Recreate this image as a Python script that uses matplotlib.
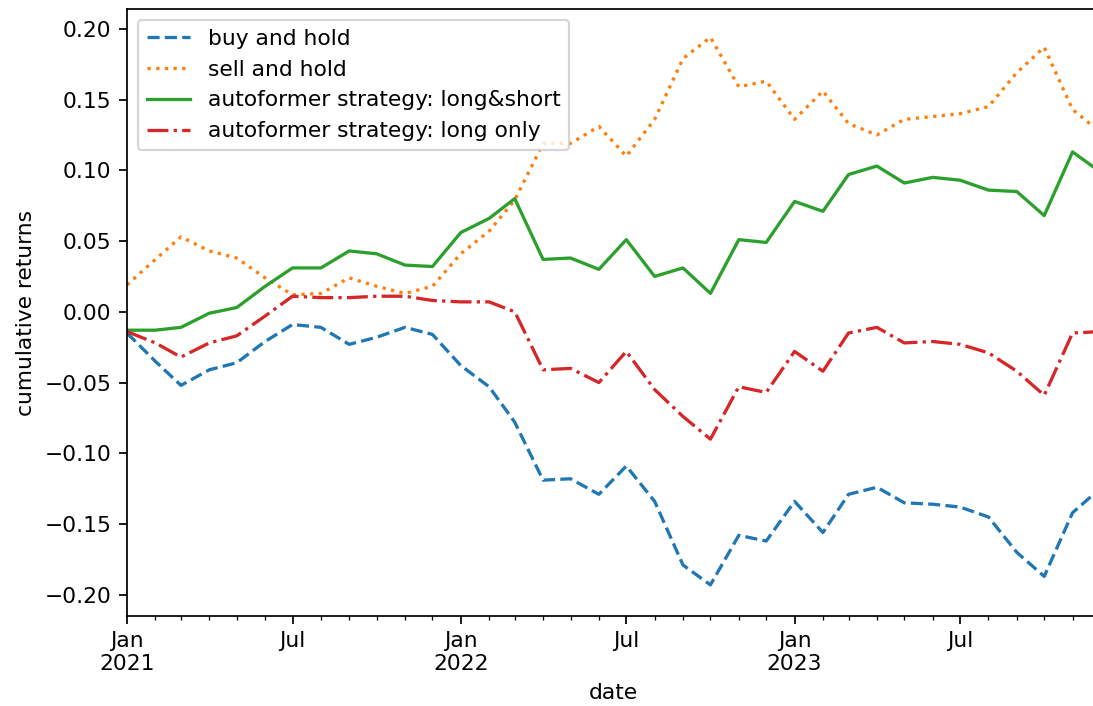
import numpy as np
import pandas as pd
import matplotlib
matplotlib.use('Agg')
import matplotlib.pyplot as plt
import matplotlib.dates as mdates
from matplotlib.ticker import FuncFormatter

# monthly cumulative returns, Jan 2021 .. Dec 2023
months = pd.date_range('2021-01-01', periods=36, freq='MS')

buy_hold = [-0.015, -0.035, -0.052, -0.041, -0.036, -0.021, -0.009, -0.011,
            -0.023, -0.018, -0.011, -0.016, -0.038, -0.053, -0.078, -0.119,
            -0.118, -0.129, -0.109, -0.134, -0.179, -0.193, -0.158, -0.162,
            -0.134, -0.156, -0.129, -0.124, -0.135, -0.136, -0.138, -0.145,
            -0.170, -0.187, -0.142, -0.125]
sell_hold = [0.019, 0.037, 0.053, 0.043, 0.038, 0.024, 0.012, 0.013,
             0.024, 0.018, 0.013, 0.018, 0.041, 0.057, 0.079, 0.119,
             0.119, 0.131, 0.110, 0.136, 0.179, 0.194, 0.159, 0.163,
             0.136, 0.156, 0.133, 0.125, 0.136, 0.138, 0.140, 0.145,
             0.169, 0.187, 0.143, 0.127]
long_short = [-0.013, -0.013, -0.011, -0.001, 0.003, 0.018, 0.031, 0.031,
              0.043, 0.041, 0.033, 0.032, 0.056, 0.066, 0.080, 0.037,
              0.038, 0.030, 0.051, 0.025, 0.031, 0.013, 0.051, 0.049,
              0.078, 0.071, 0.097, 0.103, 0.091, 0.095, 0.093, 0.086,
              0.085, 0.068, 0.113, 0.099]
long_only = [-0.014, -0.022, -0.032, -0.022, -0.017, -0.003, 0.011, 0.010,
             0.010, 0.011, 0.011, 0.008, 0.007, 0.007, 0.000, -0.041,
             -0.040, -0.050, -0.028, -0.055, -0.074, -0.090, -0.053, -0.057,
             -0.028, -0.042, -0.015, -0.011, -0.022, -0.021, -0.023, -0.029,
             -0.042, -0.059, -0.015, -0.014]

W, H, DPI = 1093, 706, 157
fig = plt.figure(figsize=(W / DPI, H / DPI), dpi=DPI)
# axes run slightly past the right edge of the canvas
ax = fig.add_axes([127 / W, 90 / H, 973 / W, 607 / H])

ax.plot(months, buy_hold, '--', color='C0', label='buy and hold')
ax.plot(months, sell_hold, ':', color='C1', label='sell and hold')
ax.plot(months, long_short, '-', color='C2', label='autoformer strategy: long&short')
ax.plot(months, long_only, '-.', color='C3', label='autoformer strategy: long only')

ax.set_xlim(months[0], months[-1])
ax.set_ylim(-0.215, 0.214)
ax.xaxis.set_major_locator(mdates.MonthLocator(bymonth=[1, 7]))
ax.xaxis.set_minor_locator(mdates.MonthLocator())


def month_label(x, pos):
    d = mdates.num2date(x)
    if d.month == 1:
        return f'Jan\n{d.year}'
    return d.strftime('%b')


ax.xaxis.set_major_formatter(FuncFormatter(month_label))
ax.xaxis.set_minor_formatter(FuncFormatter(lambda x, pos: ''))
for lbl in ax.get_xticklabels():
    lbl.set_ha('center')

ax.set_xlabel('date')
ax.set_ylabel('cumulative returns')
ax.legend(loc='upper left')

fig.savefig('out.png', dpi=DPI)
